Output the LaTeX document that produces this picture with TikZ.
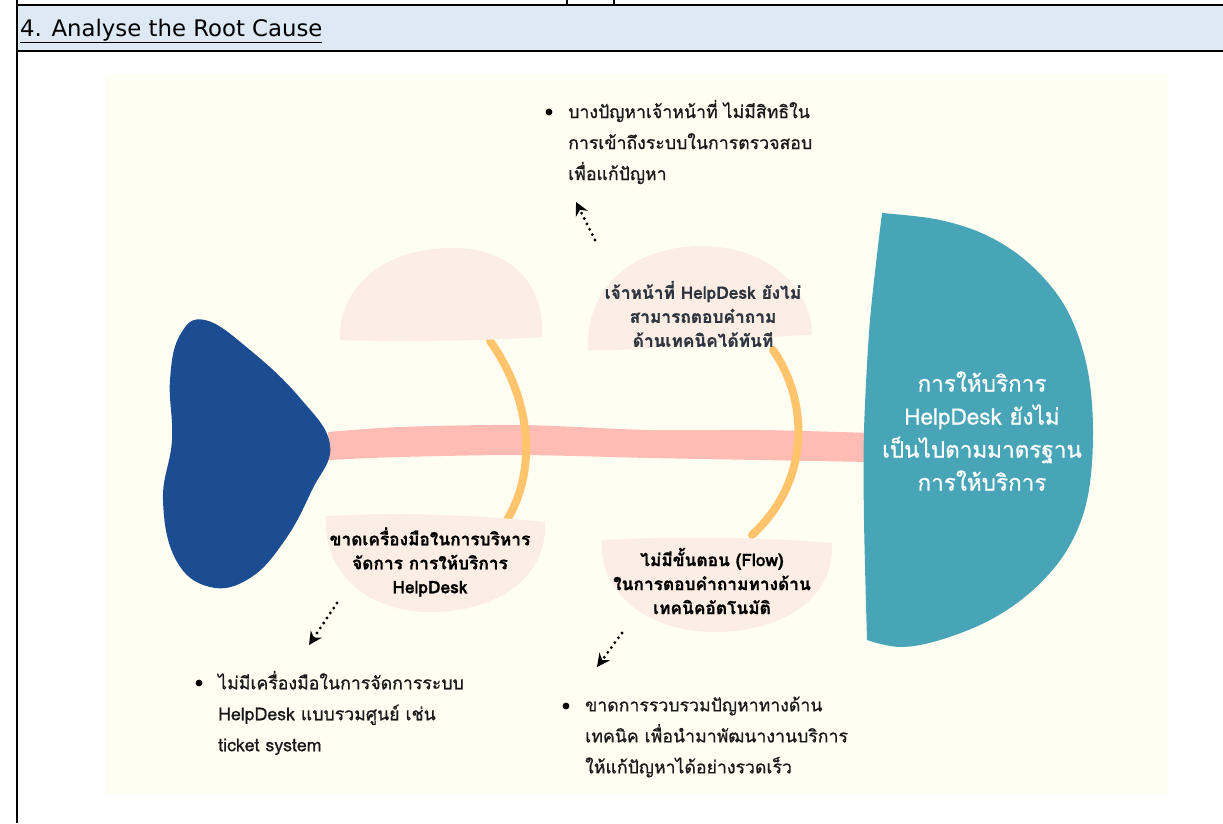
\documentclass[tikz,border=0pt]{standalone}
\usepackage{fontspec}
\setmainfont{DejaVu Sans}
\newfontfamily\thai[Script=Thai]{Loma}
\newfontfamily\thaimed[Script=Thai, FakeBold=0.8]{Loma}
\newfontfamily\thaiheavy[Script=Thai, UprightFont=* Bold, FakeBold=0.8]{Loma}
\usetikzlibrary{arrows.meta}
\definecolor{cream}{HTML}{FFFEF3}
\definecolor{headteal}{HTML}{48A4B7}
\definecolor{tailblue}{HTML}{1C4C91}
\definecolor{spinepink}{HTML}{FFBCB4}
\definecolor{boneorange}{HTML}{FFC46C}
\definecolor{blobpeach}{HTML}{FDEEE5}
\definecolor{hdrblue}{HTML}{DDE9F5}
\definecolor{labeldark}{HTML}{2E3540}
\tikzset{
  bullettext/.style={anchor=west, align=left, inner sep=0pt, font=\thaimed\fontsize{17.7}{31}\selectfont, text=black!90},
  blobtext/.style={align=center, inner sep=0pt, font=\thaiheavy\fontsize{17.3}{24}\selectfont},
  bone/.style={draw=boneorange, line width=8pt, line cap=round},
  dotarrow/.style={line width=3.2pt, dash pattern=on 0pt off 6pt, line cap=round, -{Stealth[length=13pt,width=13pt]}},
  tableline/.style={line width=2.5pt, black}
}
\begin{document}
\begin{tikzpicture}[x=1pt,y=-1pt]
\useasboundingbox (0,0) rectangle (1223,823);
\fill[white] (0,0) rectangle (1223,823);
% table header
\fill[hdrblue] (17,6) rectangle (1223,50);
\draw[tableline] (17,5) -- (1223,5);
\draw[tableline] (17,51) -- (1223,51);
\draw[tableline] (17,0) -- (17,823);
\draw[tableline] (567,0) -- (567,5);
\draw[tableline] (614,0) -- (614,5);
\node[anchor=west, inner sep=0pt, font=\fontsize{22.8}{26}\selectfont] (hdr) at (20,31) {\underline{4. Analyse the Root Cause}};
% image background
\fill[cream] (105,75) rectangle (1168,795);
% spine
\fill[spinepink] plot[smooth] coordinates {(328,432) (400,427) (520,425) (650,430) (760,430) (870,433)}
  -- plot[smooth] coordinates {(870,462) (760,460) (650,458) (520,455) (400,457) (328,460)} -- cycle;
% bones
\draw[bone] (490,341) .. controls (532,400) and (537,470) .. (507,520);
\draw[bone] (773,350) .. controls (808,400) and (812,480) .. (752,535);
% blobs
\fill[blobpeach] (340,340) .. controls (338,290) and (380,249) .. (450,248) .. controls (512,247) and (545,285) .. (542,337) .. controls (500,340) and (400,343) .. (340,340) -- cycle;
\fill[blobpeach] (588,350) .. controls (585,290) and (630,247) .. (700,246) .. controls (770,246) and (812,290) .. (812,335) .. controls (750,336) and (650,352) .. (588,350) -- cycle;
\fill[blobpeach] (326,516) .. controls (400,512) and (480,515) .. (545,522) .. controls (548,575) and (500,612) .. (430,612) .. controls (365,612) and (322,570) .. (326,516) -- cycle;
\fill[blobpeach] (602,540) .. controls (680,536) and (760,537) .. (832,543) .. controls (835,600) and (780,632) .. (715,632) .. controls (650,632) and (598,595) .. (602,540) -- cycle;
% tail
\fill[tailblue] plot[smooth cycle, tension=0.7] coordinates {(205,320) (250,350) (300,398) (330,445) (312,490) (285,540) (250,578) (210,587) (176,560) (163,500) (172,440) (170,380) (180,335)};
% head
\fill[headteal] plot[smooth, tension=0.6] coordinates {(882,213) (940,220) (990,237) (1033,267) (1067,310) (1087,367) (1093,433) (1087,500) (1067,550) (1033,590) (990,620) (940,640) (900,647) (867,640)}
  -- plot[smooth] coordinates {(867,640) (864,520) (864,430) (870,320) (882,213)} -- cycle;
\node[align=center, inner sep=0pt, text=white, font=\thaimed\fontsize{22.5}{33}\selectfont] (head) at (982,431) {การให้บริการ\\HelpDesk ยังไม่\\เป็นไปตามมาตรฐาน\\การให้บริการ};
% blob labels
\node[blobtext, text=labeldark] (ltr) at (703,314) {เจ้าหน้าที่ HelpDesk ยังไม่\\สามารถตอบคำถาม\\ด้านเทคนิคได้ทันที};
\node[blobtext, text=black] (lbl) at (430,562) {ขาดเครื่องมือในการบริหาร\\จัดการ การให้บริการ\\HelpDesk};
\node[blobtext, text=black] (lbr) at (712,581) {ไม่มีขั้นตอน (Flow)\\ในการตอบคำถามทางด้าน\\เทคนิคอัตโนมัติ};
% bullet texts
\fill[black] (549,112) circle (3.4);
\node[bullettext] (b1) at (568,142) {บางปัญหาเจ้าหน้าที่ ไม่มีสิทธิใน\\การเข้าถึงระบบในการตรวจสอบ\\เพื่อแก้ปัญหา};
\fill[black] (199,683) circle (3.4);
\node[bullettext] (b2) at (218,713) {ไม่มีเครื่องมือในการจัดการระบบ\\HelpDesk แบบรวมศูนย์ เช่น\\ticket system};
\fill[black] (566,706) circle (3.4);
\node[bullettext] (b3) at (585,737) {ขาดการรวบรวมปัญหาทางด้าน\\เทคนิค เพื่อนำมาพัฒนางานบริการ\\ให้แก้ปัญหาได้อย่างรวดเร็ว};
% dotted arrows
\coordinate (a1s) at (595,240);
\coordinate (a1e) at (576,202);
\coordinate (a2s) at (337,603);
\coordinate (a2e) at (309,645);
\coordinate (a3s) at (622,633);
\coordinate (a3e) at (597,667);
\draw[dotarrow] (a1s) -- (a1e);
\draw[dotarrow] (a2s) -- (a2e);
\draw[dotarrow] (a3s) -- (a3e);
\end{tikzpicture}
\end{document}
